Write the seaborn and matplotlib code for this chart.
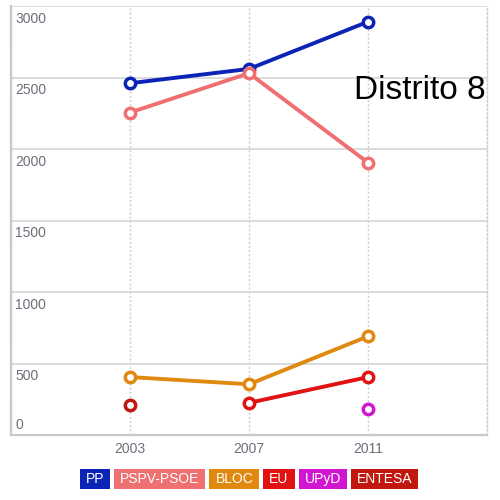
import matplotlib
matplotlib.use("Agg")
import matplotlib.pyplot as plt
from matplotlib.patches import Rectangle
import seaborn as sns

years = ["2003", "2007", "2011"]
parties = ["PP", "PSPV-PSOE", "BLOC", "EU", "UPyD", "ENTESA"]
colors = ["#0b24b6", "#ef7070", "#e0890f", "#e01212", "#d016d0", "#c0170f"]

# votes per party, None where the party did not run
pp = [2460, 2560, 2890]
psoe = [2255, 2530, 1905]
bloc = [405, 355, 690]
eu = [None, 225, 405]
upyd = [None, None, 180]
entesa = [210, None, None]
series = [pp, psoe, bloc, eu, upyd, entesa]

y_ticks = [0, 500, 1000, 1500, 2000, 2500, 3000]

sns.set_theme(style="white")
plt.rcParams["font.family"] = ["Liberation Sans", "DejaVu Sans"]

fig = plt.figure(figsize=(5, 5), dpi=100)
ax = fig.add_axes([0.022, 0.13, 0.952, 0.858])

for name, vals, c in zip(parties, series, colors):
    xs = [i for i, v in enumerate(vals) if v is not None]
    ys = [v for v in vals if v is not None]
    sns.lineplot(
        x=xs, y=ys, ax=ax, color=c, linewidth=2.8,
        marker="o", markersize=7.5, markerfacecolor="white",
        markeredgecolor=c, markeredgewidth=2.5, zorder=3,
    )

tick_grey = "#6b7079"
ax.set_xlim(-1, 3)
ax.set_ylim(0, 3000)
ax.set_xticks(range(-1, 4))
ax.set_xticklabels([""] + years + [""], color=tick_grey, fontsize=10)
ax.tick_params(axis="x", length=0, pad=5)
ax.set_yticks(y_ticks)
ax.set_yticklabels([])
ax.tick_params(axis="y", length=0)

ax.grid(axis="y", color="#d6d6d6", linewidth=1.2)
ax.grid(axis="x", color="#cfcfcf", linewidth=1.0, linestyle=(0, (1.5, 1.5)))

ax.spines["top"].set_visible(False)
ax.spines["right"].set_color("#cfcfcf")
ax.spines["right"].set_linewidth(1.0)
ax.spines["right"].set_linestyle((0, (1.5, 1.5)))
for side in ["left", "bottom"]:
    ax.spines[side].set_color("#c8c8c8")
    ax.spines[side].set_linewidth(1.6)

# y labels drawn inside the plot, just under each gridline
for t in y_ticks:
    if t == 0:
        off, va = 2, "bottom"
    else:
        off, va = -4, "top"
    ax.annotate(str(t), (-1, t), xytext=(3, off), textcoords="offset points",
                ha="left", va=va, color=tick_grey, fontsize=10)

ax.text(0.997, 0.804, "Distrito 8", transform=ax.transAxes, ha="right",
        va="center", fontsize=24, color="black")

# legend: coloured boxes with white text along the bottom
fig.canvas.draw()
renderer = fig.canvas.get_renderer()
W, H = fig.bbox.width, fig.bbox.height
pad_x, gap, box_h = 6, 4, 20
texts = [fig.text(0, 0.042, name, color="white", fontsize=10, ha="left", va="center")
         for name in parties]
fig.canvas.draw()
widths = [t.get_window_extent(renderer).width + 2 * pad_x for t in texts]
total = sum(widths) + gap * (len(widths) - 1)
x = 249 - total / 2
for t, w, c in zip(texts, widths, colors):
    fig.patches.append(Rectangle((x / W, 0.042 - box_h / 2 / H), w / W, box_h / H,
                                 transform=fig.transFigure, fc=c, ec="none", zorder=1))
    t.set_position(((x + pad_x) / W, 0.042))
    t.set_zorder(2)
    x += w + gap

fig.savefig("out.png", dpi=100)
plt.close(fig)
